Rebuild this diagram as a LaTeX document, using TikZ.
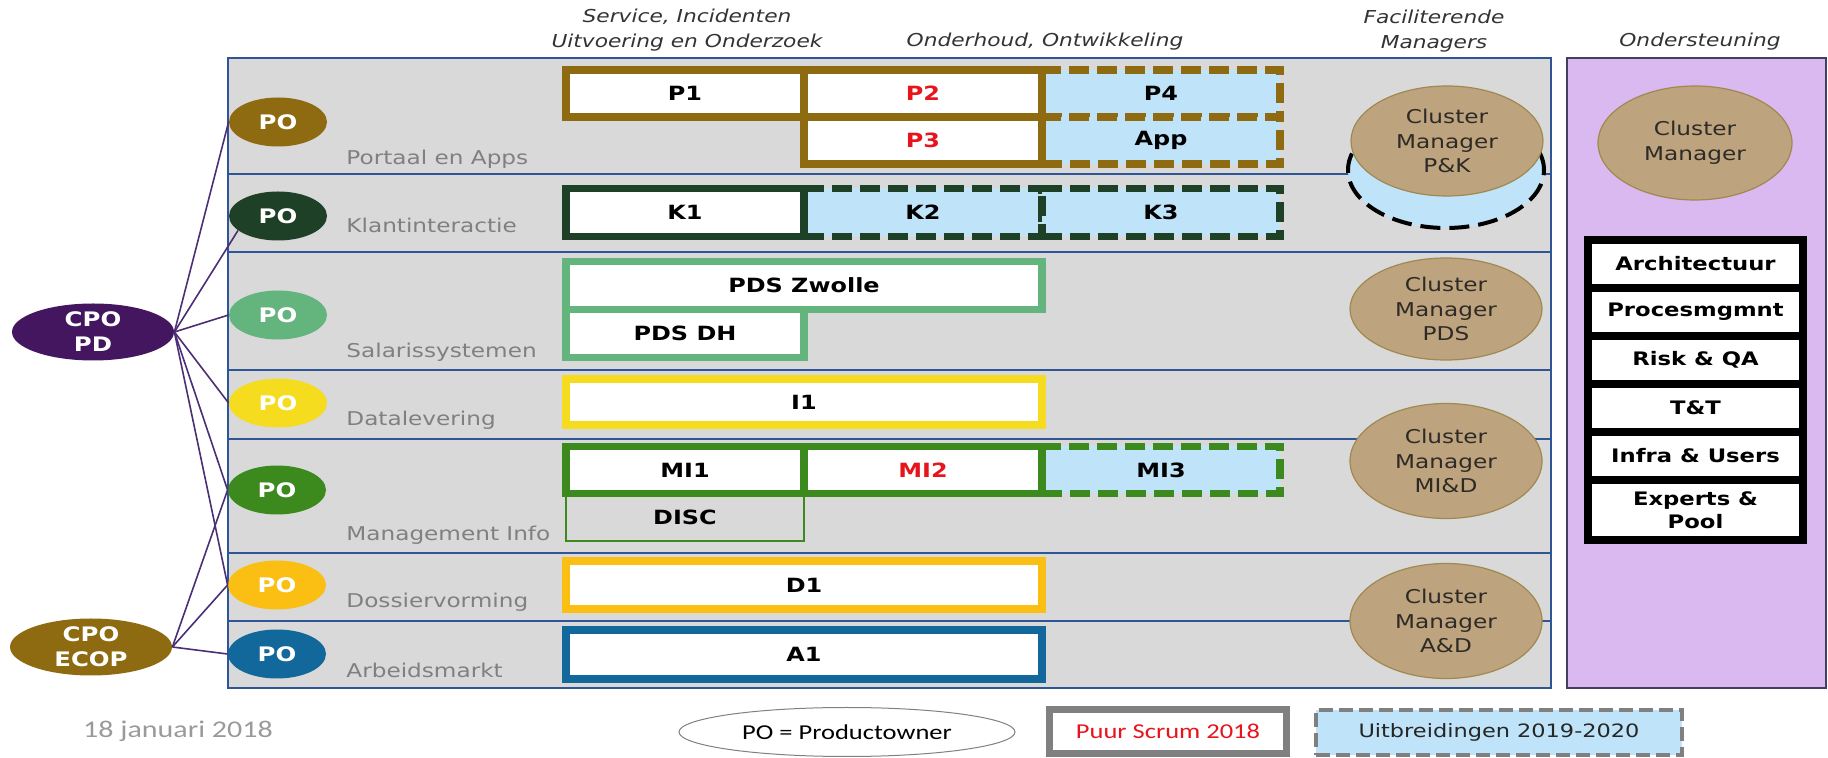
\documentclass[tikz,border=0pt]{standalone}
\usepackage{fontspec}
\setmainfont{DejaVu Sans}[FakeStretch=1.22]
\newfontfamily\narrowfont{Carlito}[FakeStretch=1.25]
\usetikzlibrary{shapes.geometric}
\definecolor{panelF}{HTML}{D9D9D9}
\definecolor{laneC}{HTML}{2F5597}
\definecolor{suppF}{HTML}{D9B9F0}
\definecolor{suppD}{HTML}{404060}
\definecolor{portC}{HTML}{8E6A10}
\definecolor{klantC}{HTML}{1E4027}
\definecolor{salC}{HTML}{64B47D}
\definecolor{dataC}{HTML}{F6DC1E}
\definecolor{miC}{HTML}{3C8A1E}
\definecolor{dosC}{HTML}{FBBF13}
\definecolor{arbC}{HTML}{12689B}
\definecolor{cpoC}{HTML}{43165F}
\definecolor{extF}{HTML}{BFE3F8}
\definecolor{mgrF}{HTML}{BEA47E}
\definecolor{mgrD}{HTML}{A08850}
\definecolor{mgrT}{HTML}{2E2A26}
\definecolor{labC}{HTML}{808080}
\definecolor{headC}{HTML}{333333}
\definecolor{redC}{HTML}{E8141C}
\definecolor{linkC}{HTML}{4B2E73}
\definecolor{legC}{HTML}{808080}
\tikzset{
  panelbox/.style={draw=laneC, line width=0.8pt, fill=panelF, inner sep=0pt},
  lane/.style={draw=laneC, line width=1.2pt},
  po/.style={ellipse, fill=#1, text=white, inner sep=0pt, minimum width=49pt, minimum height=24.5pt,
             font=\fontsize{10}{11}\selectfont\bfseries},
  cpo/.style={po=#1, minimum width=81pt, minimum height=28.5pt, align=center,
              font=\fontsize{10}{12.5}\selectfont\bfseries},
  cell/.style={draw=#1, line width=3.6pt, fill=white, inner sep=0pt, minimum width=119pt, minimum height=23.5pt,
               font=\fontsize{9.8}{11}\selectfont\bfseries},
  dbl/.style={minimum width=238pt},
  xcell/.style={cell=#1, fill=extF, dash pattern=on 10pt off 4pt},
  disccell/.style={cell=#1, line width=0.7pt, fill=none},
  mgr/.style={ellipse, fill=mgrF, draw=mgrD, line width=0.6pt, text=mgrT, inner sep=0pt, align=center,
              minimum width=96pt, font=\fontsize{9.5}{12.3}\selectfont},
  mgrx/.style={ellipse, draw=black, fill=extF, line width=2pt, dash pattern=on 10pt off 4.5pt, inner sep=0pt},
  lanelab/.style={anchor=base west, text=labC, inner sep=0pt, font=\fontsize{9.5}{11}\selectfont},
  head/.style={align=center, text=headC, font=\fontsize{8.9}{12.5}\selectfont\itshape},
  supp/.style={draw=black, line width=3.6pt, fill=white, inner sep=0pt, minimum width=107.5pt, minimum height=24pt,
               align=center, font=\fontsize{9.3}{11.5}\selectfont\bfseries},
  link/.style={draw=linkC, line width=0.8pt},
}

\begin{document}
\begin{tikzpicture}[x=0.5pt, y=-0.5pt]
\tikzset{leg/.style={inner sep=0pt, font=\narrowfont\fontsize{10.6}{12}\selectfont}}
\useasboundingbox (0,0) rectangle (1828,758);
% panels and lanes
\node[panelbox, minimum width=661.5pt, minimum height=315pt] (panel) at (889.5,373) {};
\node[panelbox, draw=suppD, fill=suppF, minimum width=129.5pt, minimum height=315pt] (supp) at (1696.5,373) {};
\foreach \y in {174,252,370,439,553,621} \draw[lane] (panel.west |- 0,\y) -- (panel.east |- 0,\y);
% headers
\node[head] (hsvc) at (687,30) {Service, Incidenten\\Uitvoering en Onderzoek};
\node[head] (hdev) at (1045,42) {Onderhoud, Ontwikkeling};
\node[head] (hfac) at (1434,31) {Faciliterende\\Managers};
\node[head] (hsup) at (1700,42) {Ondersteuning};
% cluster managers
\node[mgrx, minimum width=98pt, minimum height=58pt] (pkx) at (1446,170) {};
\node[mgr, minimum height=55pt] (mgrpk) at (1447,141) {Cluster\\Manager\\P\&K};
\node[mgr, minimum height=51pt] (mgrpds) at (1446,309) {Cluster\\Manager\\PDS};
\node[mgr, minimum height=57.5pt] (mgrmid) at (1446,461) {Cluster\\Manager\\MI\&D};
\node[mgr, minimum height=57.5pt] (mgrad) at (1446,621) {Cluster\\Manager\\A\&D};
\node[mgr, minimum width=97pt, minimum height=57pt] (mgrsup) at (1695,143) {Cluster\\Manager};
% teams
\node[xcell=portC] (p4) at (1161,93.5) {P4};
\node[xcell=portC] (app) at (1161,140.5) {App};
\node[cell=portC] (p1) at (685,93.5) {P1};
\node[cell=portC, text=redC] (p2) at (923,93.5) {P2};
\node[cell=portC, text=redC] (p3) at (923,140.5) {P3};
\node[xcell=klantC, minimum height=24pt] (k2) at (923,212.5) {K2};
\node[xcell=klantC, minimum height=24pt] (k3) at (1161,212.5) {K3};
\node[cell=klantC, minimum height=24pt] (k1) at (685,212.5) {K1};
\node[cell=salC, dbl, minimum height=24pt] (pdsz) at (804,285.5) {PDS Zwolle};
\node[cell=salC, minimum height=24pt] (pdsdh) at (685,333.5) {PDS DH};
\node[cell=dataC, dbl, minimum height=23pt] (i1) at (804,402) {I1};
\node[disccell=miC] (disc) at (685,517.5) {DISC};
\node[xcell=miC] (mi3) at (1161,470) {MI3};
\node[cell=miC] (mi1) at (685,470) {MI1};
\node[cell=miC, text=redC] (mi2) at (923,470) {MI2};
\node[cell=dosC, dbl, minimum height=24pt] (d1) at (804,585) {D1};
\node[cell=arbC, dbl, minimum height=24.5pt] (a1) at (804,654.5) {A1};
% lane names
\node[lanelab] (lport) at (346,165) {Portaal en Apps};
\node[lanelab] (lklant) at (346,233) {Klantinteractie};
\node[lanelab] (lsal) at (346,358) {Salarissystemen};
\node[lanelab] (ldata) at (346,426) {Datalevering};
\node[lanelab] (lmi) at (346,541) {Management Info};
\node[lanelab] (ldos) at (346,608) {Dossiervorming};
\node[lanelab] (larb) at (346,678) {Arbeidsmarkt};
% product owners
\node[po=portC] (po1) at (278,122) {PO};
\node[po=klantC] (po2) at (278,216) {PO};
\node[po=salC] (po3) at (278,315) {PO};
\node[po=dataC] (po4) at (278,403) {PO};
\node[po=miC] (po5) at (277,490) {PO};
\node[po=dosC] (po6) at (277,585) {PO};
\node[po=arbC] (po7) at (277,654) {PO};
\node[cpo=cpoC] (cpopd) at (93,332) {CPO\\PD};
\node[cpo=portC] (cpoecop) at (91,647) {CPO\\ECOP};
\foreach \p in {po1,po3,po4,po5,po6} \draw[link] (cpopd.east) -- (\p.west);
\draw[link] (cpopd.east) -- (po2.200);
\foreach \p in {po5,po6,po7} \draw[link] (cpoecop.east) -- (\p.west);
% support stack
\foreach \t/\y [count=\i] in {Architectuur/264, Procesmgmnt/312, Risk \& QA/360, T\&T/408, Infra \& Users/456}
  \node[supp] (s\i) at (1695.5,\y) {\t};
\node[supp, minimum height=30pt] (s6) at (1695.5,510) {Experts \&\\Pool};
% legend
\node[leg, text=labC!80, font=\narrowfont\fontsize{12}{13}\selectfont] (date) at (178,731) {18 januari 2018};
\node[leg, ellipse, draw=legC, line width=0.5pt, fill=white, minimum width=168pt, minimum height=24.5pt] (legpo) at (847,732) {PO = Productowner};
\node[leg, draw=legC, line width=3.6pt, fill=white, minimum width=118.5pt, minimum height=22pt, text=redC] (legscrum) at (1168,731.5) {Puur Scrum 2018};
\node[leg, draw=legC, line width=2pt, dash pattern=on 7pt off 3pt, fill=extF, minimum width=183pt, minimum height=22.5pt,
  text=black!85, font=\fontsize{9.2}{11}\selectfont] (legext) at (1499,732.5) {Uitbreidingen 2019-2020};
\end{tikzpicture}
\end{document}
